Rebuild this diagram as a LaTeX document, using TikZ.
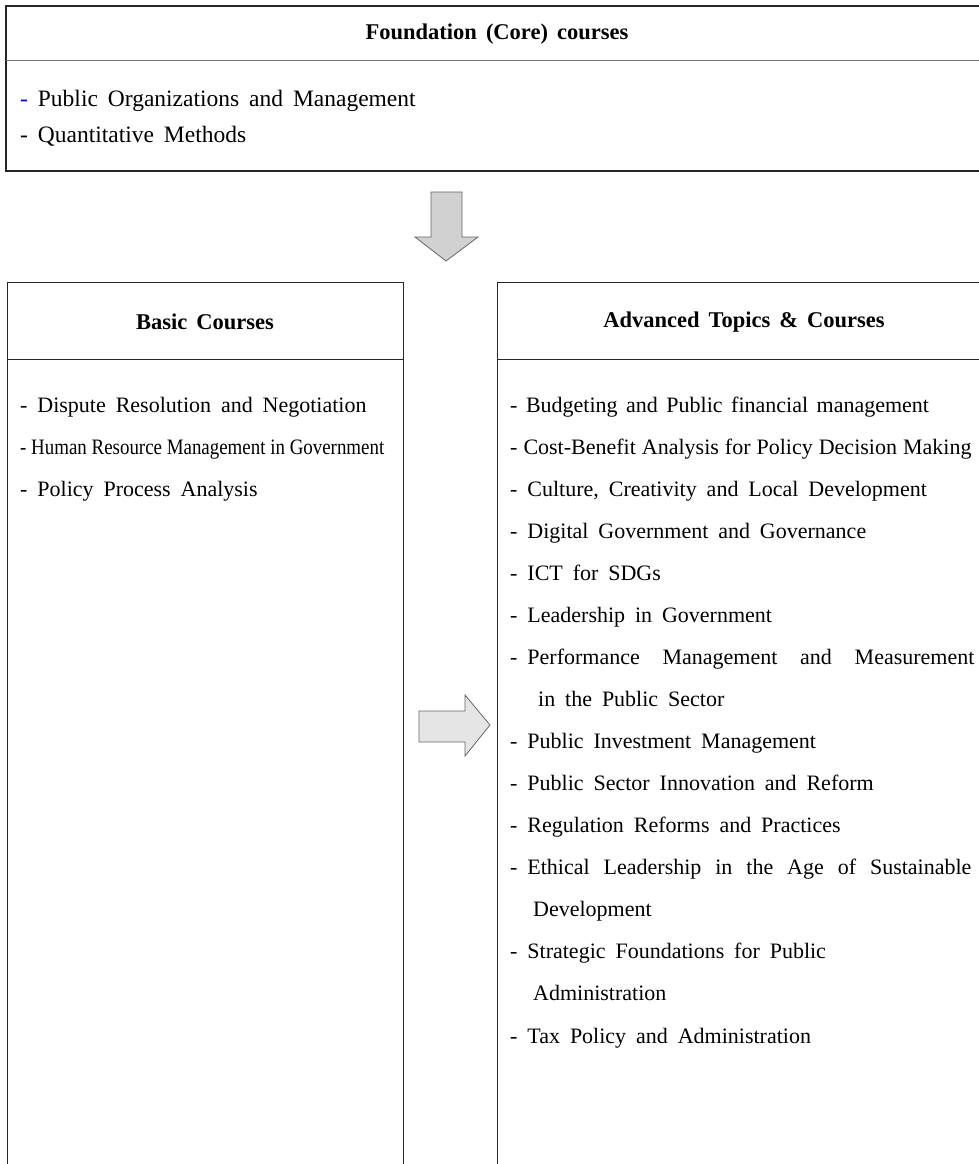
\documentclass[tikz,border=0pt]{standalone}
\usepackage{fontspec}
\setmainfont{Liberation Serif}
\usepackage{xcolor}
\usetikzlibrary{positioning}
\newskip\itemspace
\itemspace=9.9pt plus 22pt
\newskip\headspace
\headspace=9pt

\begin{document}
\begin{tikzpicture}[x=1pt,y=-1pt,
  box/.style={draw=black!85, line width=1pt},
  rule/.style={draw=black!55, line width=1pt},
  head/.style={inner sep=0pt, font=\fontsize{22.5}{26}\selectfont\bfseries\spaceskip\headspace},
  item/.style={anchor=base west, inner sep=0pt,
    font=\fontsize{22}{26}\selectfont\spaceskip\itemspace},
  coreitem/.style={item, font=\fontsize{23.5}{28}\selectfont\spaceskip\itemspace},
  blockarrow/.style={draw=black!60, line width=0.8pt}]
\useasboundingbox (0,0) rectangle (979,1164);

% foundation courses
\draw[box, line width=1.4pt] (995,6) -- (6,6) -- (6,171) -- (995,171);
\draw[rule] (6,61) -- (995,61);
\node[head] (core) at (497,34) {Foundation (Core) courses};
\node[coreitem] (core1) at (20,106) {\textcolor{blue}{-} Public Organizations and Management};
\node[coreitem] (core2) at (20,142) {- Quantitative Methods};

% down arrow
\draw[blockarrow, fill=black!18] (431,192) -- (462,192) -- (462,237) -- (478,237)
  -- (446,261) -- (415,237) -- (431,237) -- cycle;

% basic courses
\draw[box] (7,1170) -- (7,282) -- (403,282) -- (403,1170);
\draw[box] (7,359) -- (403,359);
\node[head] (basic) at (205,322) {Basic Courses};
\node[item] (basic1) at (20,412) {- Dispute Resolution and Negotiation};
\node[item] (basic2) at (20,454) {\scalebox{0.86}[1]{\spaceskip=0pt - Human Resource Management in Government}};
\node[item] (basic3) at (20,496) {- Policy Process Analysis};

% right arrow
\draw[blockarrow, fill=black!10] (419,711) -- (465,711) -- (465,695) -- (490,725)
  -- (465,756) -- (465,742) -- (419,742) -- cycle;

% advanced topics
\draw[box] (497,1170) -- (497,282) -- (995,282);
\draw[box] (497,359) -- (995,359);
\node[head] (adv) at (744,322) {Advanced Topics \& Courses};
\foreach \dx/\t [count=\i] in {
  0/{\spaceskip=8.5pt - Budgeting and Public financial management},
  0/{\spaceskip=6pt - Cost-Benefit Analysis for Policy Decision Making},
  0/{- Culture, Creativity and Local Development},
  0/{- Digital Government and Governance},
  0/{- ICT for SDGs},
  0/{- Leadership in Government},
  0/{- \makebox[447pt][s]{Performance Management and Measurement}},
  28/{in the Public Sector},
  0/{- Public Investment Management},
  0/{- Public Sector Innovation and Reform},
  0/{- Regulation Reforms and Practices},
  0/{- \makebox[444pt][s]{Ethical Leadership in the Age of Sustainable}},
  23/{Development},
  0/{- Strategic Foundations for Public},
  23/{Administration},
  0/{- Tax Policy and Administration}}
  \node[item] (adv\i) at (510+\dx,412+42.07*\i-42.07) {\t};
\end{tikzpicture}
\end{document}
